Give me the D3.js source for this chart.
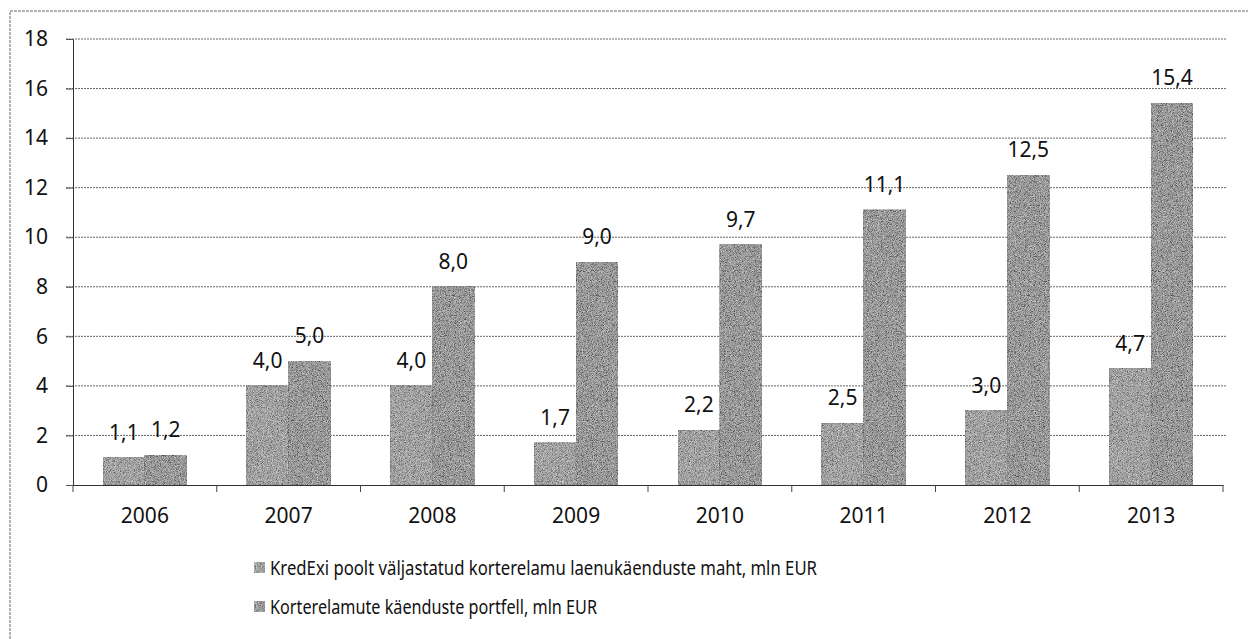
<!DOCTYPE html>
<html>
<head>
<meta charset="utf-8">
<script src="https://cdn.jsdelivr.net/npm/d3@7"></script>
<style>
  body { margin: 0; background: #fff; }
  svg text { font-family: "Noto Sans", "Open Sans", sans-serif; fill: #111; }
</style>
</head>
<body>
<svg id="chart" width="1248" height="639"></svg>
<script>
const years = ["2006", "2007", "2008", "2009", "2010", "2011", "2012", "2013"];
const guarantees = [1.1, 4.0, 4.0, 1.7, 2.2, 2.5, 3.0, 4.7];
const portfolio = [1.2, 5.0, 8.0, 9.0, 9.7, 11.1, 12.5, 15.4];
const seriesNames = [
  "KredExi poolt väljastatud korterelamu laenukäenduste maht, mln EUR",
  "Korterelamute käenduste portfell, mln EUR"
];
const yTicks = [0, 2, 4, 6, 8, 10, 12, 14, 16, 18];

const margin = {left: 73, right: 25, top: 39, bottom: 154};
const svg = d3.select("#chart");
const W = +svg.attr("width"), H = +svg.attr("height");
const width = W - margin.left - margin.right;
const height = H - margin.top - margin.bottom;

const colors = ["#868686", "#727272"];
const fs = 21;

// grain so the bars look like the scanned original
const defs = svg.append("defs");
const f = defs.append("filter").attr("id", "grain")
  .attr("x", 0).attr("y", 0).attr("width", 1).attr("height", 1);
f.append("feTurbulence").attr("type", "fractalNoise")
  .attr("baseFrequency", 1.2).attr("numOctaves", 1).attr("result", "noise");
f.append("feColorMatrix").attr("in", "noise").attr("type", "matrix")
  .attr("values", "1.4 1.4 1.4 0 -1.6  1.4 1.4 1.4 0 -1.6  1.4 1.4 1.4 0 -1.6  0 0 0 0 0.45")
  .attr("result", "gray");
f.append("feComposite").attr("in", "gray").attr("in2", "SourceGraphic")
  .attr("operator", "in").attr("result", "g2");
f.append("feMerge").selectAll("feMergeNode")
  .data(["SourceGraphic", "g2"]).enter()
  .append("feMergeNode").attr("in", d => d);

// outer frame (only left and top edges show in the scan)
svg.append("path")
  .attr("d", `M10,${H} V11 H${W}`)
  .attr("fill", "none").attr("stroke", "#666").attr("stroke-width", 1)
  .attr("stroke-dasharray", "3,1");

const g = svg.append("g").attr("transform", `translate(${margin.left},${margin.top})`);

const x = d3.scaleBand().domain(years).range([0, width]);
const x1 = d3.scaleBand().domain([0, 1]).range([30, x.bandwidth() - 30]).padding(0);
const y = d3.scaleLinear().domain([0, 18]).range([height, 0]);

// gridlines
g.append("g")
  .selectAll("line").data(yTicks.filter(d => d > 0)).enter()
  .append("line")
  .attr("x1", -7).attr("x2", width + 4)
  .attr("y1", d => y(d)).attr("y2", d => y(d))
  .attr("stroke", "#666").attr("stroke-width", 1)
  .attr("stroke-dasharray", "2,1");

// y axis
const yAxis = d3.axisLeft(y).tickValues(yTicks).tickSize(7).tickPadding(18)
  .tickFormat(d3.format("d"));
const yG = g.append("g").call(yAxis);
yG.select(".domain").attr("stroke", "#333");
yG.selectAll(".tick line").attr("stroke", "#555");
yG.selectAll("text").attr("font-size", fs).style("font-family", "Noto Sans");

// bars
const rows = years.map((yr, i) => ({year: yr, vals: [guarantees[i], portfolio[i]]}));
const grp = g.selectAll(".grp").data(rows).enter()
  .append("g").attr("transform", d => `translate(${x(d.year)},0)`);

grp.selectAll("rect").data(d => d.vals).enter()
  .append("rect")
  .attr("x", (d, i) => x1(i))
  .attr("width", x1.bandwidth())
  .attr("y", d => y(d))
  .attr("height", d => height - y(d))
  .attr("fill", (d, i) => colors[i])
  .attr("stroke", "#444").attr("stroke-width", 0.7)
  .attr("filter", "url(#grain)");

grp.selectAll("text").data(d => d.vals).enter()
  .append("text")
  .attr("x", (d, i) => x1(i) + x1.bandwidth() / 2)
  .attr("y", d => y(d) - 18)
  .attr("text-anchor", "middle")
  .attr("font-size", fs)
  .text(d => d3.format(".1f")(d).replace(".", ","));

// x axis
const xAxis = d3.axisBottom(x).tickSize(0).tickPadding(0);
const xG = g.append("g").attr("transform", `translate(0,${height})`).call(xAxis);
xG.select(".domain").attr("stroke", "#333");
xG.selectAll("text").attr("font-size", fs).attr("y", 38).attr("dy", 0)
  .style("font-family", "Noto Sans");
xG.selectAll(".sep").data(d3.range(years.length + 1)).enter()
  .append("line")
  .attr("x1", i => i * x.step()).attr("x2", i => i * x.step())
  .attr("y1", 0).attr("y2", 7).attr("stroke", "#444");

// legend
const legendLen = [547, 327];
const leg = svg.append("g").attr("transform", "translate(254,568)");
const li = leg.selectAll("g").data(seriesNames).enter()
  .append("g").attr("transform", (d, i) => `translate(0,${i * 39})`);
li.append("rect").attr("x", 0).attr("y", -6).attr("width", 11).attr("height", 11)
  .attr("fill", (d, i) => colors[i]).attr("filter", "url(#grain)");
li.append("text").attr("x", 16).attr("y", 0).attr("dy", "0.35em")
  .attr("font-size", 19)
  .attr("textLength", (d, i) => legendLen[i])
  .attr("lengthAdjust", "spacingAndGlyphs")
  .text(d => d);
</script>
</body>
</html>
